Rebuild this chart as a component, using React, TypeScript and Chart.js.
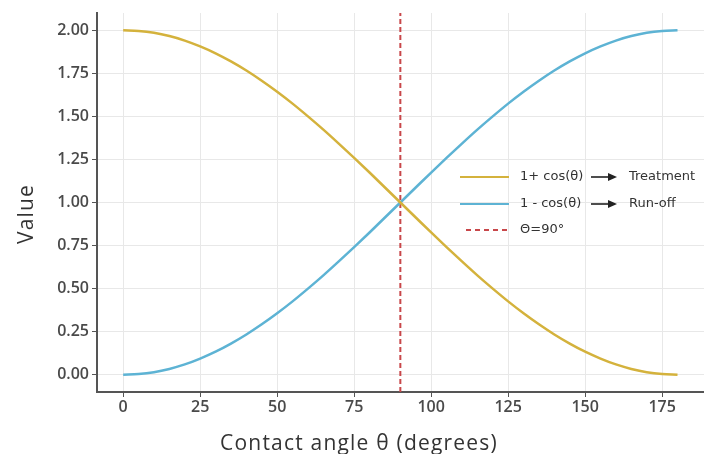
import React, { useEffect, useRef } from "react";
import { Chart, registerables } from "chart.js";

Chart.register(...registerables);

// Contact angle θ (degrees)
const angles = [
  0, 5, 10, 15, 20, 25, 30, 35, 40, 45, 50, 55, 60, 65, 70, 75, 80, 85, 90,
  95, 100, 105, 110, 115, 120, 125, 130, 135, 140, 145, 150, 155, 160, 165, 170, 175, 180,
];

// 1 + cos(θ) → Treatment
const treatment = [
  2.0, 1.996, 1.985, 1.966, 1.94, 1.906, 1.866, 1.819, 1.766, 1.707, 1.643, 1.574, 1.5,
  1.423, 1.342, 1.259, 1.174, 1.087, 1.0, 0.913, 0.826, 0.741, 0.658, 0.577, 0.5, 0.426,
  0.357, 0.293, 0.234, 0.181, 0.134, 0.094, 0.06, 0.034, 0.015, 0.004, 0.0,
];

// 1 - cos(θ) → Run-off
const runoff = [
  0.0, 0.004, 0.015, 0.034, 0.06, 0.094, 0.134, 0.181, 0.234, 0.293, 0.357, 0.426, 0.5,
  0.577, 0.658, 0.741, 0.826, 0.913, 1.0, 1.087, 1.174, 1.259, 1.342, 1.423, 1.5, 1.574,
  1.643, 1.707, 1.766, 1.819, 1.866, 1.906, 1.94, 1.966, 1.985, 1.996, 2.0,
];

const thresholdAngle = 90;
const xTicks = [0, 25, 50, 75, 100, 125, 150, 175];
const yTicks = [0, 0.25, 0.5, 0.75, 1.0, 1.25, 1.5, 1.75, 2.0];
const xRange = [-8.5, 188.6];
const yRange = [-0.1, 2.1];

const xTitle = "Contact angle θ (degrees)";
const yTitle = "Value";
const legendItems = [
  { left: "1+ cos(θ)", right: "Treatment", color: "#D4B23C", dash: [] as number[] },
  { left: "1 - cos(θ)", right: "Run-off", color: "#5DB3D4", dash: [] as number[] },
  { left: "Θ=90°", right: "", color: "#C8474A", dash: [5, 4] },
];

const GOLD = "#D4B23C";
const BLUE = "#5DB3D4";
const RED = "#C8474A";

const overlayPlugin = {
  id: "overlay",
  afterDraw(chart: any) {
    const ctx = chart.ctx as CanvasRenderingContext2D;
    ctx.save();
    // axis titles
    ctx.fillStyle = "#333";
    ctx.font = "21px 'Open Sans'";
    (ctx as any).letterSpacing = "1.2px";
    ctx.textAlign = "center";
    ctx.textBaseline = "alphabetic";
    ctx.fillText(xTitle, 359, 450);
    ctx.save();
    ctx.translate(33, 214);
    ctx.rotate(-Math.PI / 2);
    ctx.fillText(yTitle, 0, 0);
    ctx.restore();
    (ctx as any).letterSpacing = "0px";

    // legend
    const ys = [177, 204, 230];
    ctx.font = "13px 'DejaVu Sans'";
    ctx.textAlign = "left";
    ctx.textBaseline = "middle";
    legendItems.forEach((it, i) => {
      const y = ys[i];
      ctx.strokeStyle = it.color;
      ctx.lineWidth = 2;
      ctx.setLineDash(it.dash);
      ctx.beginPath();
      ctx.moveTo(it.dash.length ? 466 : 460, y);
      ctx.lineTo(509, y);
      ctx.stroke();
      ctx.setLineDash([]);
      ctx.fillStyle = "#333";
      ctx.fillText(it.left, 520, y);
      if (it.right) {
        ctx.strokeStyle = "#222";
        ctx.lineWidth = 1.6;
        ctx.beginPath();
        ctx.moveTo(591, y);
        ctx.lineTo(610, y);
        ctx.stroke();
        ctx.fillStyle = "#222";
        ctx.beginPath();
        ctx.moveTo(617, y);
        ctx.lineTo(608, y - 4);
        ctx.lineTo(608, y + 4);
        ctx.closePath();
        ctx.fill();
        ctx.fillStyle = "#333";
        ctx.fillText(it.right, 629, y);
      }
    });
    ctx.restore();
  },
};

export default function App() {
  const ref = useRef<HTMLCanvasElement | null>(null);

  useEffect(() => {
    document.body.style.margin = "0";
    const canvas = ref.current;
    if (!canvas) return;
    const tickFont = { family: "'Open Sans'", size: 16, weight: 600 as any };
    const chart = new Chart(canvas, {
      type: "line",
      data: {
        datasets: [
          {
            label: "1+ cos(θ)",
            data: angles.map((a, i) => ({ x: a, y: treatment[i] })),
            borderColor: GOLD,
            borderWidth: 2.5,
            pointRadius: 0,
            cubicInterpolationMode: "monotone",
          },
          {
            label: "1 - cos(θ)",
            data: angles.map((a, i) => ({ x: a, y: runoff[i] })),
            borderColor: BLUE,
            borderWidth: 2.5,
            pointRadius: 0,
            cubicInterpolationMode: "monotone",
          },
          {
            label: "Θ=90°",
            data: [
              { x: thresholdAngle, y: yRange[0] },
              { x: thresholdAngle, y: yRange[1] },
            ],
            borderColor: RED,
            borderWidth: 2,
            borderDash: [5, 3],
            pointRadius: 0,
          },
        ],
      },
      options: {
        animation: false,
        responsive: false,
        maintainAspectRatio: false,
        layout: { padding: { top: 13, right: 0, left: 0, bottom: 0 } },
        plugins: { legend: { display: false }, tooltip: { enabled: false }, title: { display: false } },
        scales: {
          x: {
            type: "linear",
            min: xRange[0],
            max: xRange[1],
            afterBuildTicks: (s: any) => {
              s.ticks = xTicks.map((v) => ({ value: v }));
            },
            afterFit: (s: any) => {
              s.height = 62;
            },
            grid: { color: "#e8e8e8", lineWidth: 1, tickLength: 5, tickColor: "#555", drawTicks: true },
            border: { color: "#555", width: 2 },
            ticks: { color: "#4a4a4a", font: tickFont, padding: 1, maxRotation: 0, autoSkip: false },
          },
          y: {
            type: "linear",
            min: yRange[0],
            max: yRange[1],
            afterBuildTicks: (s: any) => {
              s.ticks = yTicks.map((v) => ({ value: v }));
            },
            afterFit: (s: any) => {
              s.width = 97;
            },
            grid: { color: "#e8e8e8", lineWidth: 1, tickLength: 5, tickColor: "#555", drawTicks: true },
            border: { color: "#555", width: 2 },
            ticks: {
              color: "#4a4a4a",
              font: tickFont,
              padding: 3,
              autoSkip: false,
              callback: (v: any) => Number(v).toFixed(2),
            },
          },
        },
      },
      plugins: [overlayPlugin],
    });
    return () => chart.destroy();
  }, []);

  return (
    <div style={{ width: 704, height: 454, background: "#fff" }}>
      <canvas ref={ref} width={704} height={454} style={{ display: "block" }} />
    </div>
  );
}
